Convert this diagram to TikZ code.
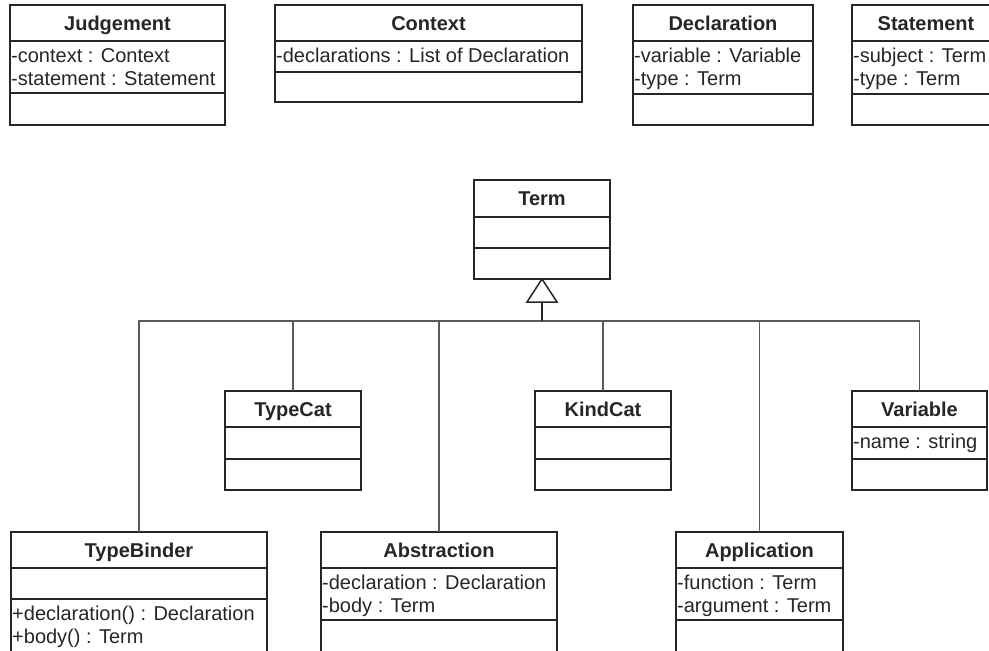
\documentclass[tikz,border=0pt]{standalone}
\usepackage{fontspec}
\setmainfont{Liberation Sans}
\definecolor{ink}{HTML}{262626}
\definecolor{wire}{HTML}{5A5A5A}
\tikzset{
  x=1pt, y=-1pt,
  classbox/.style={draw=ink, line width=1.5pt, inner sep=0pt, outer sep=0pt, fill=none},
  classline/.style={draw=ink, line width=1.5pt},
  classtitle/.style={anchor=base, inner sep=0pt, text=ink, font=\fontsize{20}{23}\selectfont\bfseries},
  member/.style={anchor=base west, inner sep=0pt, text=ink, font=\fontsize{20}{23}\selectfont},
  conn/.style={draw=wire, line width=1.2pt},
  genline/.style={draw=ink, line width=1.5pt},
}
% #1 name, #2 left, #3 top, #4 right, #5 first separator, #6 second separator, #7 bottom, #8 title
\newcommand\umlclass[8]{%
  \node[classbox, anchor=north west, minimum width={(#4-#2)*1pt}, minimum height={(#7-#3)*1pt}] (#1) at (#2,#3) {};
  \draw[classline] (#2,#5) -- (#4,#5);
  \draw[classline] (#2,#6) -- (#4,#6);
  \node[classtitle] at ({(#2+#4)/2},{(#3+#5)/2+7}) {#8};
}
% one attribute or operation line: left edge, baseline, text
\newcommand\umlmember[3]{\node[member] at (#1+1,#2) {#3};}
\begin{document}
\begin{tikzpicture}
\useasboundingbox (0,0) rectangle (989,651);
\clip (0,0) rectangle (989,651);

% top row
\umlclass{judgement}{10}{5}{225}{41}{93}{125}{Judgement}
\umlmember{10}{62}{-context : Context}
\umlmember{10}{85}{-statement : Statement}

\umlclass{context}{275}{5}{582}{41}{72}{102}{Context}
\umlmember{275}{62}{-declarations : List of Declaration}

\umlclass{declaration}{633}{5}{813}{41}{94}{125}{Declaration}
\umlmember{633}{62}{-variable : Variable}
\umlmember{633}{85}{-type : Term}

\umlclass{statement}{852}{5}{1000}{41}{94}{125}{Statement}
\umlmember{852}{62}{-subject : Term}
\umlmember{852}{85}{-type : Term}

% the Term hierarchy
\umlclass{term}{474}{180}{610}{217}{248}{279}{Term}

\umlclass{typecat}{225}{391}{361}{427}{459}{490}{TypeCat}
\umlclass{kindcat}{535}{391}{671}{427}{459}{490}{KindCat}
\umlclass{variable}{852}{391}{987}{427}{459}{490}{Variable}
\umlmember{852}{448}{-name : string}

\umlclass{typebinder}{11}{532}{267}{568}{599}{700}{TypeBinder}
\umlmember{11}{620}{+declaration() : Declaration}
\umlmember{11}{643}{+body() : Term}

\umlclass{abstraction}{321}{532}{557}{568}{620}{700}{Abstraction}
\umlmember{321}{589}{-declaration : Declaration}
\umlmember{321}{612}{-body : Term}

\umlclass{application}{676}{532}{843}{568}{620}{700}{Application}
\umlmember{676}{589}{-function : Term}
\umlmember{676}{612}{-argument : Term}

% generalization tree
\coordinate (bus) at (0,321);
\draw[conn] (typebinder.north) |- (variable.north |- bus) -- (variable.north);
\foreach \child in {typecat, abstraction, kindcat, application}
  \draw[conn] (\child.north) -- (\child.north |- bus);
\draw[genline] (term.south |- bus) -- ++(0,-19);
\draw[genline, fill=white, line join=miter] (term.south) -- ++(-15,23) -- ++(30,0) -- cycle;
\end{tikzpicture}
\end{document}
